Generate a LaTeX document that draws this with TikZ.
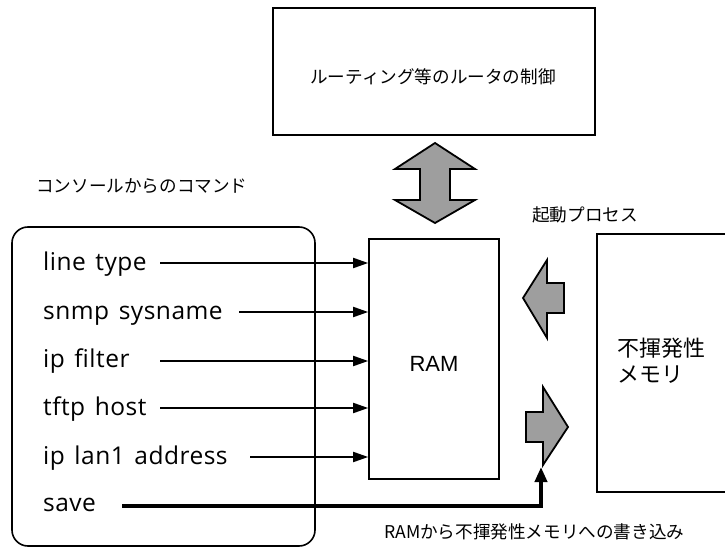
\documentclass[tikz,border=0pt]{standalone}
\usepackage{fontspec}
\setmainfont{Noto Sans CJK JP}
\newfontfamily\cmdfont[LetterSpace=2,WordSpace=1.4]{Open Sans}
\newfontfamily\arialfont{Liberation Sans}
\usetikzlibrary{arrows.meta}
\begin{document}
\begin{tikzpicture}[x=1pt,y=-1pt,
  box/.style={draw,line width=1.6pt,inner sep=0pt},
  cmd/.style={anchor=base west,inner sep=0pt,font=\cmdfont\fontsize{24.5}{27}\selectfont},
  jp/.style={anchor=west,inner sep=0pt,font=\fontsize{17.6}{20}\selectfont},
  flow/.style={line width=1.8pt,-{Triangle[length=15pt,width=10pt]}},
  savearrow/.style={line width=4pt,-{Triangle[length=15pt,width=12pt]}},
  blockarrow/.style={draw,line width=1.8pt,fill=black!38,line join=miter}]
\useasboundingbox (0,0) rectangle (725,548);
% boxes
\node[box,minimum width=322pt,minimum height=127pt] (ctrl) at (434,71.5) {};
\node[inner sep=0pt,font=\fontsize{17.6}{20}\selectfont] (ctrllabel) at (433,77) {ルーティング等のルータの制御};
\node[box,minimum width=130pt,minimum height=240pt] (ram) at (434,359) {};
\node[inner sep=0pt,font=\arialfont\fontsize{22}{24}\selectfont] (ramlabel) at (434,364) {RAM};
\draw[line width=1.6pt] (740,234) -- (597,234) -- (597,492) -- (740,492);
\coordinate (nvm) at (597,363);
\node[anchor=west,inner sep=0pt,align=left,font=\fontsize{22}{26}\selectfont] (nvmlabel) at (617,361) {不揮発性\\メモリ};
\draw[line width=1.6pt,rounded corners=16pt] (12,227) rectangle (315,546);
\coordinate (console) at (12,227);
% labels
\node[jp] (lblconsole) at (36,186) {コンソールからのコマンド};
\node[jp] (lblboot) at (532,215) {起動プロセス};
\node[jp] (lblwrite) at (384,532) {RAMから不揮発性メモリへの書き込み};
% commands
\node[cmd] (c1) at (43,270) {line type};
\node[cmd] (c2) at (43,319) {snmp sysname};
\node[cmd] (c3) at (43,367) {ip filter};
\node[cmd] (c4) at (43,415) {tftp host};
\node[cmd] (c5) at (43,464) {ip lan1 address};
\node[cmd] (c6) at (43,511) {save};
\coordinate (s1) at (160,263);
\coordinate (s2) at (239,312);
\coordinate (s3) at (160,361);
\coordinate (s4) at (160,408);
\coordinate (s5) at (250,457);
\coordinate (s6) at (122,506);
\coordinate (t6) at (541,467);
\draw[flow] (s1) -- (ram.west |- s1);
\draw[flow] (s2) -- (ram.west |- s2);
\draw[flow] (s3) -- (ram.west |- s3);
\draw[flow] (s4) -- (ram.west |- s4);
\draw[flow] (s5) -- (ram.west |- s5);
\draw[savearrow] (s6) -| (t6);
% block arrows
\draw[blockarrow] (435,143) -- (475,169) -- (450,169) -- (450,200) -- (475,200) -- (435,223) -- (395,200) -- (420,200) -- (420,169) -- (395,169) -- cycle;
\draw[blockarrow] (523,298) -- (547,260) -- (547,283) -- (564,283) -- (564,313) -- (547,313) -- (547,338) -- cycle;
\draw[blockarrow] (568,427) -- (543,387) -- (543,412) -- (526,412) -- (526,442) -- (543,442) -- (543,465) -- cycle;
\end{tikzpicture}
\end{document}
